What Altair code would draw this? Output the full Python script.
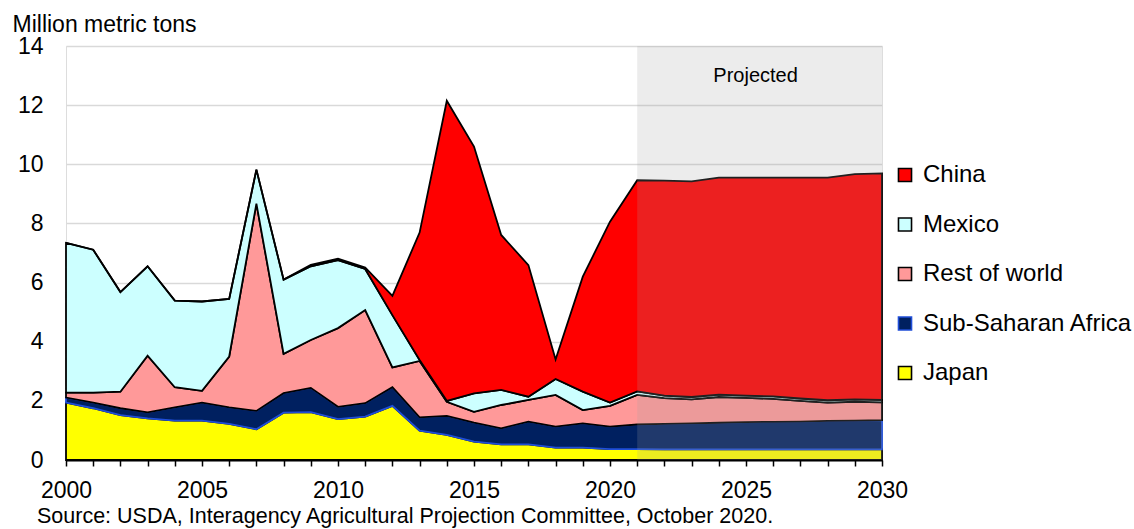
import altair as alt
import pandas as pd

# Import volumes, million metric tons, 2000-2030 (2021 onward projected)
years = list(range(2000, 2031))

japan = [1.94, 1.75, 1.52, 1.41, 1.33, 1.33, 1.22, 1.04, 1.60, 1.62,
         1.38, 1.47, 1.83, 0.99, 0.85, 0.62, 0.53, 0.53, 0.42, 0.42,
         0.37, 0.37, 0.36, 0.36, 0.36, 0.36, 0.36, 0.36, 0.36, 0.36, 0.36]
sub_saharan_africa = [0.17, 0.19, 0.23, 0.20, 0.45, 0.61, 0.56, 0.62, 0.66, 0.82,
                      0.42, 0.45, 0.63, 0.45, 0.64, 0.64, 0.54, 0.77, 0.71, 0.82,
                      0.76, 0.83, 0.86, 0.88, 0.90, 0.92, 0.93, 0.94, 0.96, 0.97, 0.99]
rest_of_world = [0.17, 0.34, 0.56, 1.92, 0.68, 0.40, 1.72, 7.01, 1.33, 1.62,
                 2.66, 3.15, 0.67, 1.91, 0.48, 0.37, 0.79, 0.73, 1.07, 0.45,
                 0.70, 1.00, 0.87, 0.81, 0.87, 0.82, 0.78, 0.70, 0.62, 0.64, 0.60]
mexico = [5.06, 4.83, 3.37, 3.02, 2.93, 3.02, 1.95, 1.15, 2.51, 2.49,
          2.30, 1.39, 1.77, 0.03, 0.03, 0.62, 0.51, 0.11, 0.54, 0.62,
          0.11, 0.12, 0.09, 0.08, 0.08, 0.08, 0.08, 0.08, 0.08, 0.08, 0.08]
china = [0.0, 0.0, 0.0, 0.0, 0.0, 0.0, 0.0, 0.0, 0.0, 0.05,
         0.05, 0.05, 0.65, 4.31, 10.15, 8.35, 5.24, 4.45, 0.66, 3.89,
         6.12, 7.14, 7.27, 7.29, 7.34, 7.37, 7.40, 7.47, 7.53, 7.62, 7.66]

stack_order = ["Japan", "Sub-Saharan Africa", "Rest of world", "Mexico", "China"]
legend_order = ["China", "Mexico", "Rest of world", "Sub-Saharan Africa", "Japan"]
series = {
    "Japan": japan,
    "Sub-Saharan Africa": sub_saharan_africa,
    "Rest of world": rest_of_world,
    "Mexico": mexico,
    "China": china,
}
fills = {
    "China": "#ff0000",
    "Mexico": "#ccffff",
    "Rest of world": "#ff9999",
    "Sub-Saharan Africa": "#002060",
    "Japan": "#ffff00",
}
outlines = {
    "China": "#000000",
    "Mexico": "#000000",
    "Rest of world": "#000000",
    "Sub-Saharan Africa": "#1f4ed8",
    "Japan": "#000000",
}

# Cumulative bands, bottom to top
rows = []
base = [0.0] * len(years)
for name in stack_order:
    vals = series[name]
    for i, yr in enumerate(years):
        rows.append({"year": yr, "region": name,
                     "low": round(base[i], 3), "high": round(base[i] + vals[i], 3)})
    base = [b + v for b, v in zip(base, vals)]
bands = pd.DataFrame(rows)

FONT = "Liberation Sans"

fill_scale = alt.Scale(domain=legend_order, range=[fills[r] for r in legend_order])
stroke_scale = alt.Scale(domain=legend_order, range=[outlines[r] for r in legend_order])

legend = alt.Legend(
    title=None, orient="none", legendX=827, legendY=117,
    symbolType="square", symbolSize=170, symbolStrokeWidth=1.6,
    labelFontSize=24, labelFont=FONT, labelColor="black", labelLimit=0,
    rowPadding=25.5, labelOffset=6, padding=0,
)

x_axis = alt.Axis(
    title=None, values=years, format="d",
    labelExpr="datum.value % 5 == 0 ? datum.label : ''",
    labelFontSize=23, labelFont=FONT, labelColor="black",
    labelBaseline="alphabetic", labelPadding=31, labelFlush=False,
    tickColor="black", tickWidth=1.5, tickSize=6,
    domainColor="black", domainWidth=2, grid=False,
)
y_axis = alt.Axis(
    title="Million metric tons", values=list(range(0, 15, 2)),
    labelFontSize=23, labelFont=FONT, labelColor="black", labelPadding=23,
    domain=False, ticks=False,
    grid=True, gridColor="#d9d9d9", gridWidth=1.5,
    titleAngle=0, titleAlign="left", titleBaseline="alphabetic",
    titleX=-54, titleY=-15, titleFontSize=23, titleFont=FONT,
    titleFontWeight="normal", titleColor="black",
)

x_enc = alt.X("year:Q", scale=alt.Scale(domain=[2000, 2030], nice=False, zero=False), axis=x_axis)
y_scale = alt.Scale(domain=[0, 14], nice=False)

layers = []
for name in stack_order:
    layers.append(
        alt.Chart(bands)
        .transform_filter(alt.datum.region == name)
        .mark_area(strokeWidth=1.8, interpolate="linear", fillOpacity=1)
        .encode(
            x=x_enc,
            y=alt.Y("high:Q", scale=y_scale, axis=y_axis),
            y2="low:Q",
            fill=alt.Fill("region:N", scale=fill_scale, legend=legend),
            stroke=alt.Stroke("region:N", scale=stroke_scale, legend=legend),
        )
    )

# Projection period shading
period = pd.DataFrame({"start": [2021], "end": [2030], "bottom": [0], "top": [14]})
shade = alt.Chart(period).mark_rect(color="#a0a0a0", opacity=0.2).encode(
    x=alt.X("start:Q", scale=alt.Scale(domain=[2000, 2030], nice=False, zero=False), axis=x_axis),
    x2="end:Q",
    y=alt.Y("bottom:Q", scale=y_scale, axis=y_axis),
    y2="top:Q",
)

note = pd.DataFrame({"year": [2025.5], "value": [12.79], "label": ["Projected"]})
projected_label = alt.Chart(note).mark_text(
    fontSize=20, font=FONT, color="black", baseline="alphabetic", align="center", dx=-4
).encode(
    x=alt.X("year:Q", scale=alt.Scale(domain=[2000, 2030], nice=False, zero=False), axis=x_axis),
    y=alt.Y("value:Q", scale=y_scale, axis=y_axis),
    text="label:N",
)

chart = (
    alt.layer(*layers, shade, projected_label)
    .properties(
        width=816, height=414,
        autosize=alt.AutoSizeParams(type="none"),
        padding={"left": 66, "top": 46, "right": 252, "bottom": 69},
        title=alt.TitleParams(
            "Source: USDA, Interagency Agricultural Projection Committee, October 2020.",
            orient="bottom", anchor="start", frame="group", fontSize=21.5, font=FONT,
            fontWeight="normal", color="black", dx=-29, offset=4,
        ),
    )
    .configure_view(stroke=None)
    .configure(background="white")
)

chart.save("out.html", embed_options={"renderer": "svg", "actions": False})
